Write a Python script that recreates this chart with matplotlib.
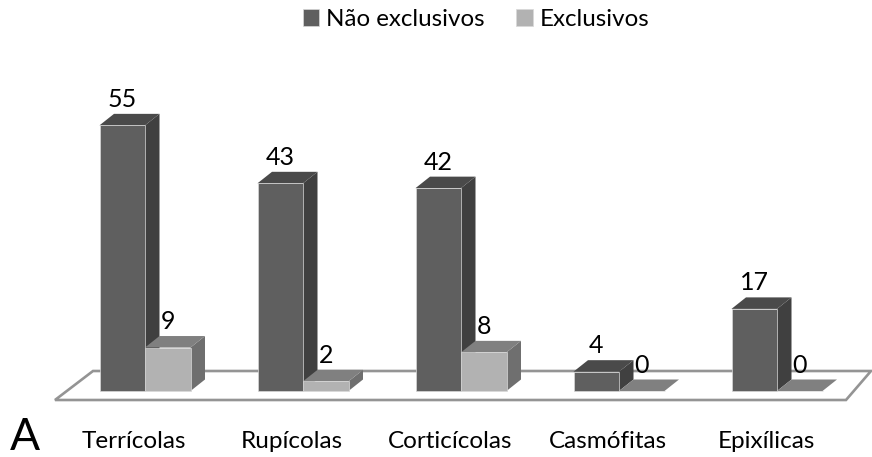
import matplotlib
matplotlib.use('Agg')
import matplotlib.pyplot as plt
from matplotlib.patches import Polygon

categories = ['Terrícolas', 'Rupícolas', 'Corticícolas', 'Casmófitas', 'Epixílicas']
nao_exclusivos = [55, 43, 42, 4, 17]
exclusivos = [9, 2, 8, 0, 0]

plt.rcParams['font.family'] = ['Lato', 'DejaVu Sans']

# 1 x unit = 158 px, 1 y unit = 4.83 px, baseline at pixel 391
fig = plt.figure(figsize=(8.72, 4.57), dpi=100)
ax = fig.add_axes([0, 0, 1, 1])
ax.set_xlim(-145 / 158, (872 - 145) / 158)
ax.set_ylim(-(457 - 391) / 4.83, 391 / 4.83)
ax.axis('off')

bar_w = 45.5 / 158
dx = 14.5 / 158
dy = 11.5 / 4.83


def draw_bar(x, val, front, side, top, label):
    # x is the left edge of the front face
    if val > 0:
        ax.add_patch(Polygon([(x + bar_w, 0), (x + bar_w + dx, dy), (x + bar_w + dx, val + dy), (x + bar_w, val)],
                             fc=side, ec='none', zorder=3))
    ax.add_patch(Polygon([(x, val), (x + dx, val + dy), (x + bar_w + dx, val + dy), (x + bar_w, val)],
                         fc=top, ec='none', zorder=3))
    bars = ax.bar(x, val, width=bar_w, align='edge', color=front, edgecolor='#d8d8d8', linewidth=0.5, zorder=4,
                  label=label)
    ax.text(x + bar_w / 2, val + dy + 3.0, str(val), ha='center', va='center', fontsize=18, color='black',
            zorder=6)
    return bars


# floor of the chart
floor = Polygon([(-90 / 158, -9 / 4.83), (-52 / 158, 20 / 4.83), (726 / 158, 20 / 4.83), (701 / 158, -9 / 4.83)],
                closed=True, fc='white', ec='#949494', lw=1.9, zorder=1)
ax.add_patch(floor)

for i in range(len(categories)):
    a = draw_bar(i - bar_w, nao_exclusivos[i], '#5f5f5f', '#404040', '#4a4a4a',
                 'Não exclusivos' if i == 0 else None)
    b = draw_bar(i, exclusivos[i], '#b2b2b2', '#6f6f6f', '#808080',
                 'Exclusivos' if i == 0 else None)
    ax.text(i - 0.07, -51 / 4.83, categories[i], ha='center', va='center', fontsize=17.5, color='black')

ax.text(-135 / 158, -47 / 4.83, 'A', ha='left', va='center', fontsize=32, color='black')

ax.legend(loc='center', bbox_to_anchor=(0.546, 0.958), ncol=2, frameon=False, fontsize=17.4,
          handlelength=0.68, handleheight=0.68, handletextpad=0.28, columnspacing=1.3)

fig.savefig('out.png', dpi=100)
